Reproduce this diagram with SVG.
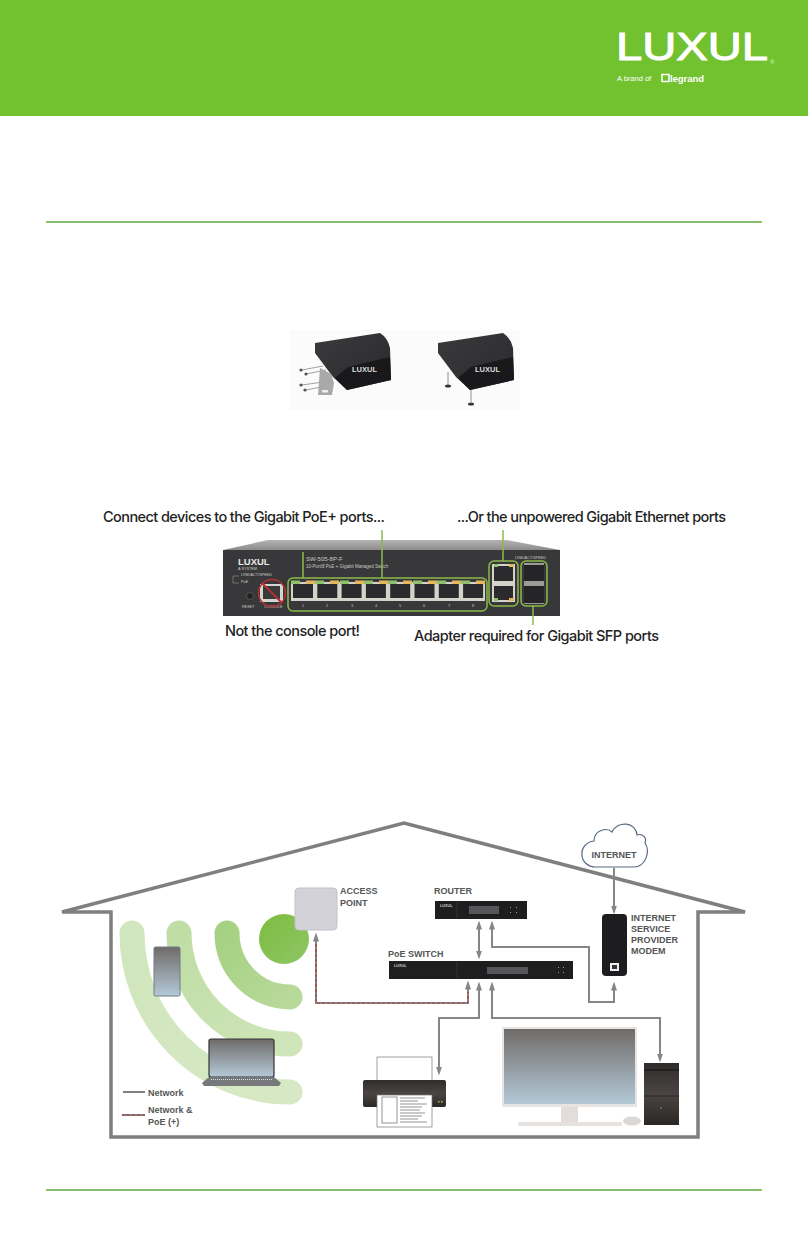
<svg xmlns="http://www.w3.org/2000/svg" width="808" height="1241" viewBox="0 0 808 1241">
<style>
text{font-family:"Liberation Sans",Arial,sans-serif}
.cap{font-family:Inter,"Liberation Sans",sans-serif;font-size:14.5px;fill:#222;font-weight:500}
.lab{font-size:9px;font-weight:bold;fill:#555}
.sw{fill:#c9c9c0;font-size:3.800px}
.c{fill:none;stroke:#868686;stroke-width:2}
.p{fill:none;stroke:#b23a3a;stroke-width:1.200;stroke-dasharray:3 2}
.g{fill:none;stroke:#8cb84a;stroke-width:1.500}
.rule{stroke:#62a83c;stroke-width:1.500}
.panel{fill:#1e1e1f}
.disp{fill:#55565a}
.wifi{fill:none;stroke-width:25;stroke-linecap:round}
.pl{stroke:#666;stroke-width:.7}
</style>
<defs>
<marker id="ah" markerWidth="4.500" markerHeight="3" refX="6.500" refY="3" orient="auto-start-reverse" markerUnits="strokeWidth" viewBox="0 0 9 6"><path d="M0 0L9 3L0 6Z" fill="#868686"/></marker>
<linearGradient id="scr" x1="0" y1="0" x2="0" y2="1"><stop offset="0" stop-color="#6f6b68"/><stop offset="1" stop-color="#b4c9d8"/></linearGradient>
<linearGradient id="dk" x1="0" y1="0" x2="0" y2="1"><stop offset="0" stop-color="#2f2c2b"/><stop offset=".5" stop-color="#4a4543"/><stop offset="1" stop-color="#2a2725"/></linearGradient>
<linearGradient id="bev" x1="0" y1="0" x2="0" y2="1"><stop offset="0" stop-color="#b5b4b2"/><stop offset="1" stop-color="#8c8b89"/></linearGradient>
<linearGradient id="top" x1="0" y1="0" x2="1" y2="1"><stop offset="0" stop-color="#3a393b"/><stop offset="1" stop-color="#2a292b"/></linearGradient>
<linearGradient id="w0" x1="0" y1="0" x2="1" y2="1"><stop offset="0" stop-color="#7cbc3f"/><stop offset="1" stop-color="#8fc665"/></linearGradient>
<linearGradient id="w1" x1="0" y1="0" x2="1" y2="1"><stop offset="0" stop-color="#a7d182"/><stop offset="1" stop-color="#b7d99a"/></linearGradient>
<linearGradient id="w2" x1="0" y1="0" x2="1" y2="1"><stop offset="0" stop-color="#bfdda4"/><stop offset="1" stop-color="#cfe5ba"/></linearGradient>
<linearGradient id="w3" x1="0" y1="0" x2="1" y2="1"><stop offset="0" stop-color="#d0e6bc"/><stop offset="1" stop-color="#d6e9c4"/></linearGradient>
</defs>

<g id="header">
<rect width="808" height="116" fill="#72c12f"/>
<text x="616" y="60" font-size="38" fill="#fff" stroke="#fff" stroke-width="1" textLength="152" lengthAdjust="spacingAndGlyphs">LUXUL</text>
<text x="770" y="64" font-size="6" fill="#dff0d0">®</text>
<text x="617" y="81" font-size="7.500" fill="#fff">A brand of</text>
<rect x="662" y="74.500" width="7" height="7" fill="none" stroke="#fff" stroke-width="1.500"/>
<text x="670" y="81.500" font-size="9.500" font-weight="bold" fill="#fff" textLength="34">legrand</text>
</g>
<line class="rule" x1="46" y1="222" x2="762" y2="222"/>
<line class="rule" x1="46" y1="1190" x2="762" y2="1190"/>

<g id="mounting-images">
<rect x="290" y="330" width="230" height="80" fill="#fbfbfb"/>
<g id="device-wall">
<g stroke="#8a8a8a" stroke-width=".8"><line x1="302" y1="370" x2="323" y2="366"/><line x1="306" y1="374" x2="326" y2="370"/><line x1="302" y1="385" x2="323" y2="382"/><line x1="306" y1="390" x2="326" y2="386"/></g>
<g fill="#555"><circle cx="301" cy="370" r="1.600"/><circle cx="306" cy="374" r="1.600"/><circle cx="301" cy="385" r="1.600"/><circle cx="305" cy="390" r="1.600"/></g>
<path d="M315 343L380 333Q388 338 390 348L391 380L347 390L333 377L315 353Z" fill="url(#top)"/>
<path d="M348 367L390 357L391 380L347 390L335 378Z" fill="#19191b"/>
<path d="M320 368L331 374L334 383L332 395L318 395Z" fill="#a9a9a9"/>
<rect x="322" y="390" width="6" height="2.500" fill="#eee"/>
<text x="352" y="372" font-size="7.500" font-weight="bold" fill="#ddd">LUXUL</text>
</g>
<g id="device-flat">
<g stroke="#777" stroke-width=".8"><line x1="448" y1="372" x2="448" y2="385"/><line x1="471" y1="390" x2="471" y2="402"/></g>
<ellipse cx="448" cy="386" rx="3" ry="1.500" fill="#333"/><ellipse cx="471" cy="404" rx="3" ry="1.500" fill="#333"/>
<path d="M438 343L503 333Q511 338 513 348L514 380L470 390L456 377L438 353Z" fill="url(#top)"/>
<path d="M471 367L513 357L514 380L470 390L458 378Z" fill="#19191b"/>
<text x="475" y="372" font-size="7.500" font-weight="bold" fill="#ddd">LUXUL</text>
</g>
</g>

<g id="callouts">
<text class="cap" x="103" y="522" textLength="282">Connect devices to the Gigabit PoE+ ports...</text>
<text class="cap" x="457" y="522" textLength="269">...Or the unpowered Gigabit Ethernet ports</text>
<text class="cap" x="225" y="636" textLength="135">Not the console port!</text>
<text class="cap" x="414" y="641" textLength="245">Adapter required for Gigabit SFP ports</text>
</g>

<g id="switch-photo">
<path d="M223 550L268 540H507L560 550Z" fill="url(#bev)"/>
<rect x="223" y="550" width="337" height="66" fill="#38383a"/>
<text x="238" y="565" font-size="9.500" font-weight="bold" fill="#e8e8e8">LUXUL</text>
<text x="238" y="569.500" class="sw">A SYSTEM</text>
<text x="241" y="576" class="sw">LINK/ACT/SPEED</text>
<text x="241" y="583" class="sw">PoE</text>
<path d="M233 576H239M233 576V583H239" fill="none" stroke="#aaa" stroke-width=".5"/>
<circle cx="250" cy="596" r="3.500" fill="#222" stroke="#777" stroke-width=".5"/>
<text x="242" y="608" class="sw">RESET</text>
<text x="264" y="608" class="sw">CONSOLE</text>
<text x="306" y="561" class="sw" style="font-size:6px">SW-505-8P-F</text>
<text x="306" y="568" class="sw" style="font-size:4.500px">10-Port/8 PoE + Gigabit Managed Switch</text>
<g id="ports">
<rect x="291" y="582" width="194" height="19" fill="#d3d3cc"/>
<g fill="#2b2b2d"><rect x="293" y="584" width="20" height="14"/><rect x="317.300" y="584" width="20" height="14"/><rect x="341.600" y="584" width="20" height="14"/><rect x="365.900" y="584" width="20" height="14"/><rect x="390.200" y="584" width="20" height="14"/><rect x="414.500" y="584" width="20" height="14"/><rect x="438.800" y="584" width="20" height="14"/><rect x="463.100" y="584" width="20" height="14"/></g>
<g fill="#8fc06a"><rect x="291" y="580.500" width="9" height="3.500"/><rect x="315" y="580.500" width="9" height="3.500"/><rect x="340" y="580.500" width="9" height="3.500"/><rect x="364" y="580.500" width="9" height="3.500"/><rect x="388" y="580.500" width="9" height="3.500"/><rect x="413" y="580.500" width="9" height="3.500"/><rect x="437" y="580.500" width="9" height="3.500"/><rect x="461" y="580.500" width="9" height="3.500"/></g>
<g fill="#e6b85c"><rect x="306" y="580.500" width="9" height="3.500"/><rect x="330" y="580.500" width="9" height="3.500"/><rect x="355" y="580.500" width="9" height="3.500"/><rect x="379" y="580.500" width="9" height="3.500"/><rect x="403" y="580.500" width="9" height="3.500"/><rect x="428" y="580.500" width="9" height="3.500"/><rect x="452" y="580.500" width="9" height="3.500"/><rect x="476" y="580.500" width="9" height="3.500"/></g>
<g class="sw" text-anchor="middle"><text x="303" y="607">1</text><text x="327" y="607">2</text><text x="352" y="607">3</text><text x="376" y="607">4</text><text x="400" y="607">5</text><text x="424" y="607">6</text><text x="449" y="607">7</text><text x="473" y="607">8</text></g>
</g>
<g id="console">
<rect x="260" y="584" width="23" height="18" fill="#d6d6d0"/>
<rect x="263" y="586" width="17" height="13" fill="#3a3a3c"/>
<circle cx="272" cy="593" r="13.500" fill="none" stroke="#b52f35" stroke-width="1.500"/>
<line x1="262" y1="583" x2="282" y2="603" stroke="#b52f35" stroke-width="2"/>
</g>
<g id="uplinks">
<rect x="492" y="564" width="23" height="38" fill="#d3d3cc"/>
<rect x="494" y="566" width="19" height="15" fill="#2b2b2d"/><rect x="494" y="586" width="19" height="14" fill="#2b2b2d"/>
<rect x="494" y="564" width="4" height="3" fill="#8fc06a"/><rect x="509" y="564" width="5" height="3" fill="#e6b85c"/>
<rect x="494" y="598" width="4" height="3" fill="#8fc06a"/><rect x="509" y="598" width="5" height="3" fill="#e6b85c"/>
<rect x="524" y="563" width="20" height="41" fill="#9a9a96"/>
<rect x="524" y="565" width="20" height="16" fill="#252527"/><rect x="524" y="586" width="20" height="17" fill="#252527"/>
<text x="515" y="559" class="sw">LINK/ACT/SPEED</text>
</g>
<g class="g">
<rect x="288" y="578" width="199" height="33" rx="5"/>
<rect x="489" y="561" width="29" height="45" rx="5"/>
<rect x="521" y="561" width="26" height="45" rx="5"/>
</g>
</g>
<g id="switch-callout-lines" class="g">
<line x1="382" y1="530" x2="382" y2="578"/>
<line x1="303" y1="552" x2="303" y2="578"/>
<line x1="503" y1="530" x2="503" y2="561"/>
<line x1="533" y1="606" x2="533" y2="625"/>
</g>

<g id="house"><path d="M62 912L404 823L745 912H698V1137H111V912Z" fill="#fff" stroke="#7f7f80" stroke-width="3.500"/></g>

<g id="wifi">
<circle cx="284" cy="939" r="25" fill="url(#w0)"/>
<path class="wifi" d="M227 933A63 64 0 0 0 290 997" stroke="url(#w1)"/>
<path class="wifi" d="M179 933A111 111 0 0 0 290 1044" stroke="url(#w2)"/>
<path class="wifi" d="M132 933A158 159 0 0 0 290 1092" stroke="url(#w3)"/>
</g>

<g id="connectors">
<path class="c" d="M316 935V1003H468V983" marker-start="url(#ah)" marker-end="url(#ah)"/>
<path class="p" d="M316 944V1003H468V992"/>
<path class="c" d="M479 923V957" marker-start="url(#ah)" marker-end="url(#ah)"/>
<path class="c" d="M492 923V947H589V1002H614V984" marker-start="url(#ah)" marker-end="url(#ah)"/>
<path class="c" d="M614 868V912" marker-end="url(#ah)"/>
<path class="c" d="M479 984V1018H439V1073" marker-start="url(#ah)" marker-end="url(#ah)"/>
<path class="c" d="M492 984V1018H660V1060" marker-start="url(#ah)" marker-end="url(#ah)"/>
</g>

<g id="access-point">
<rect x="295" y="888" width="42" height="42" rx="4" fill="#d2d2d8" stroke="#c2c2c8"/>
<text class="lab" x="340" y="894">ACCESS</text><text class="lab" x="340" y="906">POINT</text>
</g>
<g id="phone"><rect x="154" y="947" width="26" height="49" rx="1.500" fill="url(#scr)" stroke="#6f7a84"/></g>
<g id="laptop">
<rect x="209" y="1039" width="65" height="38" rx="2" fill="url(#scr)" stroke="#333" stroke-width="1.200"/>
<path d="M209 1077H274L281 1083L279 1086H204L202 1083Z" fill="#77787b"/>
<line x1="211" y1="1079.500" x2="272" y2="1079.500" stroke="#ddd" stroke-width="1" stroke-dasharray="1 1"/>
</g>
<g id="legend">
<line x1="123" y1="1092" x2="145" y2="1092" stroke="#7f7f80" stroke-width="2"/>
<text class="lab" x="148" y="1096">Network</text>
<line x1="122" y1="1115" x2="145" y2="1115" stroke="#7f7f80" stroke-width="2"/>
<line x1="122" y1="1115" x2="145" y2="1115" class="p"/>
<text class="lab" x="148" y="1113">Network &amp;</text><text class="lab" x="148" y="1125">PoE (+)</text>
</g>
<g id="router">
<rect x="435" y="901" width="92" height="18" class="panel"/>
<rect x="469" y="906" width="30" height="8" class="disp"/>
<text x="440" y="907" class="sw" font-weight="bold">LUXUL</text>
<line x1="457" y1="902" x2="457" y2="918" stroke="#444" stroke-width=".5"/>
<g fill="#999"><rect x="510" y="907" width="1" height="1"/><rect x="516" y="907" width="1" height="1"/><rect x="510" y="912" width="1" height="1"/><rect x="516" y="912" width="1" height="1"/></g>
<text class="lab" x="434" y="894">ROUTER</text>
</g>
<g id="poe-switch">
<rect x="389" y="961" width="184" height="18" class="panel"/>
<rect x="487" y="967" width="41" height="7" class="disp"/>
<text x="394" y="967" class="sw" font-weight="bold">LUXUL</text>
<line x1="457" y1="962" x2="457" y2="978" stroke="#444" stroke-width=".5"/>
<g fill="#999"><rect x="558" y="967" width="1" height="1"/><rect x="563" y="967" width="1" height="1"/><rect x="558" y="972" width="1" height="1"/><rect x="563" y="972" width="1" height="1"/></g>
<text class="lab" x="388" y="957">PoE SWITCH</text>
</g>
<g id="internet">
<path d="M596 867C578 867 577 843 594 841C594 830 607 827 612 832C618 820 636 822 637 835C643 833 647 838 645 843C651 852 645 867 634 867Z" fill="#fff" stroke="#586a80" stroke-width="1.200"/>
<text class="lab" x="614" y="858" text-anchor="middle">INTERNET</text>
</g>
<g id="modem">
<rect x="602" y="914" width="25" height="62" rx="4" fill="#1d1d1f"/>
<rect x="610" y="963" width="9" height="8" fill="#eee"/><rect x="612" y="965" width="5" height="4" fill="#333"/>
<text class="lab" x="631" y="921">INTERNET</text><text class="lab" x="631" y="932">SERVICE</text><text class="lab" x="631" y="943">PROVIDER</text><text class="lab" x="631" y="954">MODEM</text>
</g>
<g id="printer">
<rect x="377" y="1057" width="55" height="24" fill="#fff" stroke="#777" stroke-width=".7"/>
<rect x="363" y="1080" width="83" height="27" rx="2" fill="url(#dk)"/>
<rect x="377" y="1095" width="55" height="32" fill="#fff" stroke="#777" stroke-width=".7"/>
<rect x="382" y="1097" width="15" height="26" fill="#fff" stroke="#666" stroke-width=".7"/>
<g class="pl"><line x1="400" y1="1098" x2="425" y2="1098"/><line x1="400" y1="1101" x2="418" y2="1101"/><line x1="400" y1="1104" x2="427" y2="1104"/><line x1="400" y1="1107" x2="422" y2="1107"/><line x1="400" y1="1110" x2="420" y2="1110"/><line x1="400" y1="1113" x2="425" y2="1113"/><line x1="400" y1="1116" x2="422" y2="1116"/><line x1="400" y1="1119" x2="418" y2="1119"/><line x1="400" y1="1122" x2="427" y2="1122"/></g>
<rect x="438" y="1101" width="1.500" height="1.500" fill="#9c6"/><rect x="441" y="1101" width="1.500" height="1.500" fill="#9c6"/>
</g>
<g id="monitor">
<rect x="561" y="1107" width="17" height="15" fill="#e3dcdc"/>
<rect x="518" y="1122" width="104" height="4" rx="1.500" fill="#e6e2e0"/>
<rect x="502" y="1027" width="135" height="80" fill="#e8e4e2"/>
<rect x="504" y="1029" width="131" height="75" fill="url(#scr)"/>
<ellipse cx="632" cy="1121" rx="9" ry="4.500" fill="#dcd8d6"/>
</g>
<g id="tower">
<rect x="644" y="1063" width="35" height="62" fill="url(#dk)"/>
<line x1="644" y1="1070" x2="679" y2="1070" stroke="#1b1b1b" stroke-width="1.500"/>
<line x1="644" y1="1096" x2="679" y2="1096" stroke="#1b1b1b" stroke-width=".7"/>
<circle cx="661" cy="1108" r=".8" fill="#999"/>
</g>
</svg>
